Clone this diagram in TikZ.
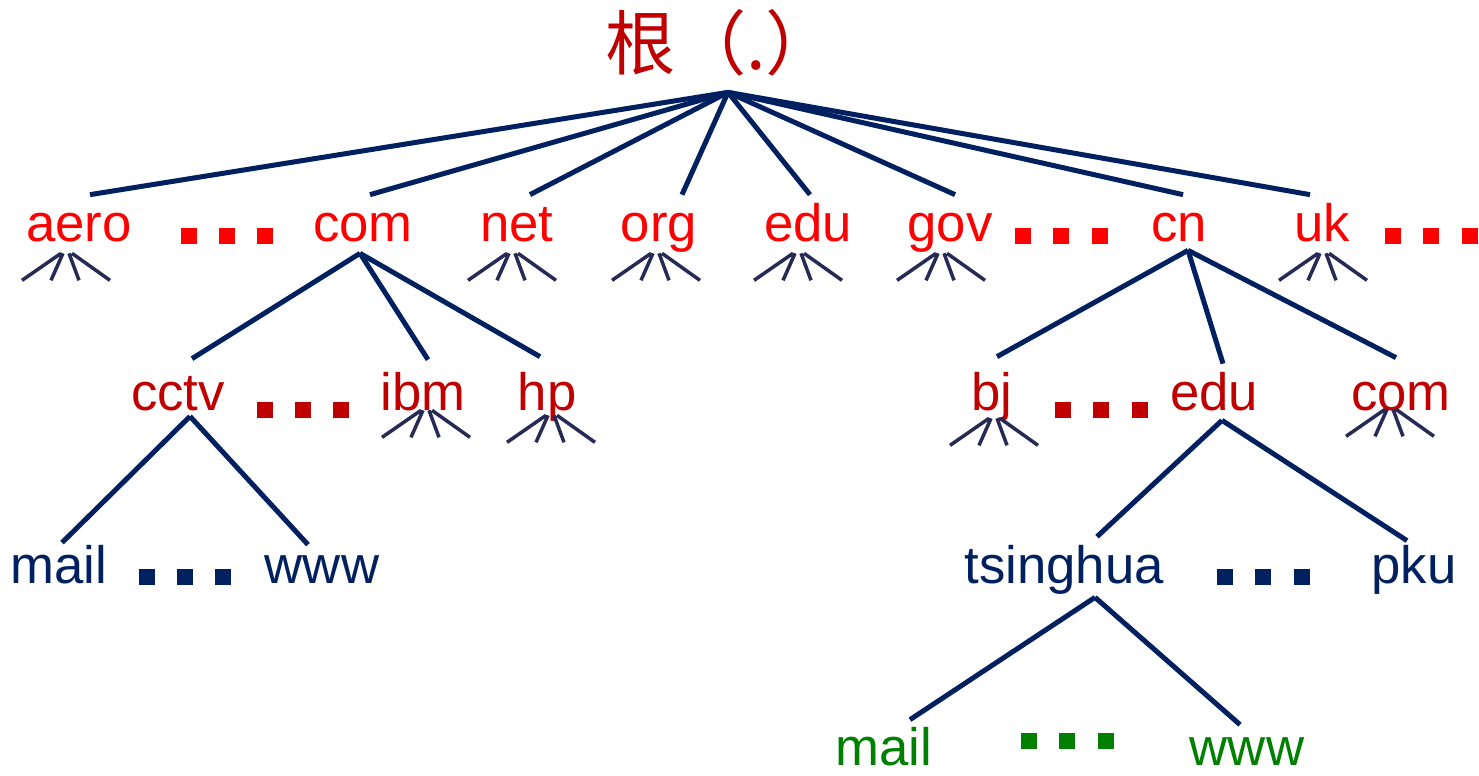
\documentclass[tikz,border=0pt]{standalone}
\usepackage{fontspec}
\setmainfont{Liberation Sans}
\newfontfamily\cjk{Noto Sans CJK SC}
\usetikzlibrary{calc}
\definecolor{rootred}{RGB}{192,0,0}
\definecolor{topred}{RGB}{255,0,0}
\definecolor{navy}{RGB}{0,32,96}
\definecolor{fanblue}{RGB}{38,42,84}
\definecolor{leafgreen}{RGB}{0,128,0}
\newcommand\sqrow{\rule{0.32cm}{0.32cm}\hspace{0.45cm}\rule{0.32cm}{0.32cm}\hspace{0.45cm}\rule{0.32cm}{0.32cm}}
\tikzset{
	branch/.style={
		draw=navy,
		line width=0.1cm
	},
	fanline/.style={
		draw=fanblue,
		line width=0.07cm
	},
	fan/.pic={
		\draw[fanline] (-5,0) -- (-44,27) (-3,0) -- (-15,27) (3,0) -- (13,27) (6,0) -- (44,27);
	},
	ellip/.style={
		inner sep=0pt,
		anchor=center
	}
}
\begin{document}
\begin{tikzpicture}[
					x=0.02cm,y=-0.02cm,
					dname/.style={
						font=\fontsize{30}{36}\selectfont,
						text height=0.76cm,
						text depth=0pt,
						inner xsep=0pt,
						inner ysep=0.18cm,
						anchor=base
					},
					tld/.style={dname,text=topred},
					sld/.style={dname,text=rootred},
					host/.style={dname,text=navy},
					leaf/.style={dname,text=leafgreen,inner ysep=0.04cm}]

					\useasboundingbox (0,0) rectangle (1479,776);

					%%% Nodes
					%% Root
					\node at (721,70) [anchor=base,font=\fontsize{40}{48}\selectfont,text=rootred,
						text depth=0pt,inner xsep=0pt,inner ysep=0.44cm] (root) {\cjk 根（.）};

					%% Top level domains
					\node at (79,242) [tld] (aero) {aero};
					\node at (363,242) [tld] (com) {com};
					\node at (517,242) [tld] (net) {net};
					\node at (659,242) [tld] (org) {org};
					\node at (808,242) [tld] (edu) {edu};
					\node at (950,242) [tld] (gov) {gov};
					\node at (1179,242) [tld] (cn) {cn};
					\node at (1322,242) [tld] (uk) {uk};
					\node at (227,236) [ellip,text=topred] (tlddotsA) {\sqrow};
					\node at (1061,236) [ellip,text=topred] (tlddotsB) {\sqrow};
					\node at (1431,236) [ellip,text=topred] (tlddotsC) {\sqrow};

					%% Second level
					\node at (178,410) [sld] (cctv) {cctv};
					\node at (423,410) [sld] (ibm) {ibm};
					\node at (547,410) [sld] (hp) {hp};
					\node at (992,410) [sld] (bj) {bj};
					\node at (1214,410) [sld] (cnedu) {edu};
					\node at (1401,410) [sld] (cncom) {com};
					\node at (303,410) [ellip,text=rootred] (slddotsA) {\sqrow};
					\node at (1101,410) [ellip,text=rootred] (slddotsB) {\sqrow};

					%% Third level
					\node at (59,583) [host] (cctvmail) {mail};
					\node at (322,583) [host] (cctvwww) {www};
					\node at (1064,583) [host] (tsinghua) {tsinghua};
					\node at (1414,583) [host] (pku) {pku};
					\node at (185,577) [ellip,text=navy] (hostdotsA) {\sqrow};
					\node at (1263,577) [ellip,text=navy] (hostdotsB) {\sqrow};

					%% Fourth level
					\node at (884,765) [leaf] (thumail) {mail};
					\node at (1247,765) [leaf] (thuwww) {www};
					\node at (1067,741) [ellip,text=leafgreen] (leafdots) {\sqrow};

					%%% Connections
					%% Root to top level
					\draw[branch] ($(root.south)+(7,0)$) -- ($(aero.north)+(11,0)$);
					\draw[branch] ($(root.south)+(7,0)$) -- ($(com.north)+(7,0)$);
					\draw[branch] ($(root.south)+(7,0)$) -- ($(net.north)+(13,0)$);
					\draw[branch] ($(root.south)+(7,0)$) -- ($(org.north)+(23,0)$);
					\draw[branch] ($(root.south)+(7,0)$) -- ($(edu.north)+(2,0)$);
					\draw[branch] ($(root.south)+(7,0)$) -- ($(gov.north)+(5,0)$);
					\draw[branch] ($(root.south)+(7,0)$) -- ($(cn.north)+(4,0)$);
					\draw[branch] ($(root.south)+(7,0)$) -- ($(uk.north)+(-12,0)$);

					%% com subtree
					\draw[branch] ($(com.south)+(-3,2)$) -- ($(cctv.north)+(14,-4)$);
					\draw[branch] ($(com.south)+(-3,2)$) -- ($(ibm.north)+(5,-3)$);
					\draw[branch] ($(com.south)+(-3,2)$) -- ($(hp.north)+(-7,-6)$);
					\draw[branch] ($(cctv.south)+(12,-3)$) -- ($(cctvmail.north)+(3,7)$);
					\draw[branch] ($(cctv.south)+(12,-3)$) -- ($(cctvwww.north)+(-14,9)$);

					%% cn subtree
					\draw[branch] ($(cn.south)+(9,-1)$) -- ($(bj.north)+(5,-6)$);
					\draw[branch] ($(cn.south)+(9,-1)$) -- ($(cnedu.north)+(9,1)$);
					\draw[branch] ($(cn.south)+(9,-1)$) -- ($(cncom.north)+(-5,-5)$);
					\draw[branch] ($(cnedu.south)+(8,1)$) -- ($(tsinghua.north)+(33,1)$);
					\draw[branch] ($(cnedu.south)+(8,1)$) -- ($(pku.north)+(-7,5)$);
					\draw[branch] ($(tsinghua.south)+(31,5)$) -- ($(thumail.north)+(26,-5)$);
					\draw[branch] ($(tsinghua.south)+(31,5)$) -- ($(thuwww.north)+(-7,0)$);

					%%% Decorations
					%% Fans below leaves
					\pic at ($(aero.south)+(-13,2)$) {fan};
					\pic at ($(net.south)+(-5,2)$) {fan};
					\pic at ($(org.south)+(-3,2)$) {fan};
					\pic at ($(edu.south)+(-10,2)$) {fan};
					\pic at ($(gov.south)+(-9,2)$) {fan};
					\pic at ($(uk.south)+(1,2)$) {fan};
					\pic at ($(ibm.south)+(3,-9)$) {fan};
					\pic at ($(hp.south)+(4,-4)$) {fan};
					\pic at ($(bj.south)+(2,-1)$) {fan};
					\pic at ($(cncom.south)+(-11,-10)$) {fan};
				\end{tikzpicture}
\end{document}
